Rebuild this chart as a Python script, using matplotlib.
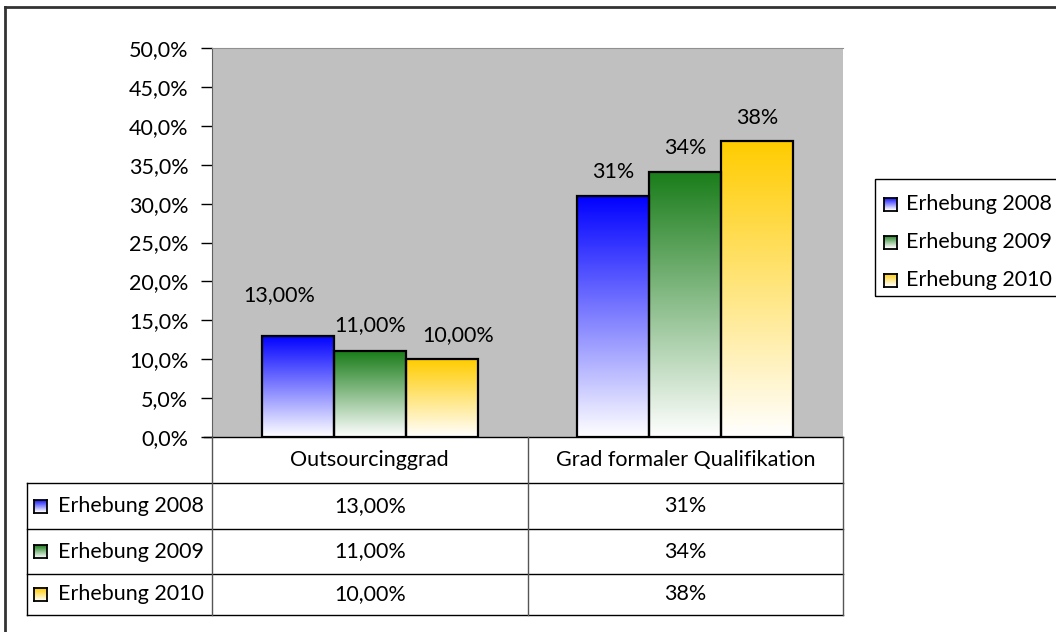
import numpy as np
import matplotlib.pyplot as plt
import matplotlib.transforms as mtransforms
from matplotlib.colors import LinearSegmentedColormap
from matplotlib.lines import Line2D
from matplotlib.patches import Rectangle

plt.rcParams['font.family'] = ['Lato', 'DejaVu Sans']
plt.rcParams['font.size'] = 15.5
plt.rcParams['text.color'] = 'black'

# Data
categories = ['Outsourcinggrad', 'Grad formaler Qualifikation']
series = ['Erhebung 2008', 'Erhebung 2009', 'Erhebung 2010']
erhebung_2008 = [0.13, 0.31]
erhebung_2009 = [0.11, 0.34]
erhebung_2010 = [0.10, 0.38]
decimals = [2, 0]  # number format per category
values = [erhebung_2008, erhebung_2009, erhebung_2010]
colors = ['#0000FF', '#1A7D1A', '#FFCC00']

W, H = 1056, 632
fig = plt.figure(figsize=(W / 100, H / 100), dpi=100)


def fx(px):
    return px / W


def fy(py):
    return 1 - py / H


def fmt(v, d):
    return f'{v * 100:.{d}f}%'.replace('.', ',')


def gradient_cmap(c):
    return LinearSegmentedColormap.from_list('g', ['#FFFFFF', c])


grad = np.linspace(0, 1, 256).reshape(-1, 1)

# Plot area
left, right, top, bottom = 212, 843, 48, 437
ax = fig.add_axes([fx(left), fy(bottom), fx(right - left), (bottom - top) / H])
ax.set_facecolor('#C0C0C0')

x = np.arange(len(categories))
bw = 0.228
offsets = [-bw, 0, bw]
label_shift = [[(-19, 41), (0, 24)], [(0, 26), (0, 24)], [(16, 24), (0, 23)]]

for s, vals in enumerate(values):
    bars = ax.bar(x + offsets[s], vals, bw, fill=False, edgecolor='black',
                  linewidth=1.6, zorder=3)
    for i, b in enumerate(bars):
        x0 = b.get_x()
        ax.imshow(grad, extent=(x0, x0 + bw, 0, vals[i]), origin='lower',
                  aspect='auto', cmap=gradient_cmap(colors[s]), zorder=2)
        dx, dy = label_shift[s][i]
        ax.annotate(fmt(vals[i], decimals[i]), (x[i] + offsets[s], vals[i]),
                    xytext=(dx, dy), textcoords='offset pixels',
                    ha='center', va='center')

ax.set_xlim(-0.5, 1.5)
ax.set_ylim(0, 0.5)
ticks = np.arange(0, 0.501, 0.05)
ax.set_yticks(ticks)
ax.set_yticklabels([f'{t * 100:.1f}%'.replace('.', ',') for t in ticks])
ax.set_xticks([])
ax.tick_params(axis='y', length=8, width=1, pad=9, colors='black', labelcolor='black')
ax.spines['top'].set_color('#909090')
ax.spines['right'].set_visible(False)
ax.spines['left'].set_color('#606060')
ax.spines['bottom'].set_visible(False)

# Data table under the plot
tab_left = 27
row_y = [437, 483, 529, 574, 615]
line_kw = dict(color='black', linewidth=1)
fig.add_artist(Line2D([fx(204), fx(right)], [fy(437), fy(437)], **line_kw))
for yy in row_y[1:]:
    fig.add_artist(Line2D([fx(tab_left), fx(right)], [fy(yy), fy(yy)], **line_kw))
fig.add_artist(Line2D([fx(tab_left), fx(tab_left)], [fy(483), fy(615)], **line_kw))
for xx in [left, (left + right) / 2, right]:
    fig.add_artist(Line2D([fx(xx), fx(xx)], [fy(437), fy(615)], color='#555555', linewidth=1))

tr = mtransforms.blended_transform_factory(ax.transData, fig.transFigure)
for i, cat in enumerate(categories):
    fig.text(x[i], fy(460), cat, transform=tr, ha='center', va='center')
    for s in range(len(series)):
        yc = (row_y[s + 1] + row_y[s + 2]) / 2
        fig.text(x[i], fy(yc), fmt(values[s][i], decimals[i]), transform=tr,
                 ha='center', va='center')


def key_square(px, py, c, size=13):
    k = fig.add_axes([fx(px), fy(py + size / 2), fx(size), size / H])
    k.imshow(grad, origin='lower', aspect='auto', cmap=gradient_cmap(c),
             extent=(0, 1, 0, 1))
    k.set_xticks([])
    k.set_yticks([])
    for sp in k.spines.values():
        sp.set_linewidth(1.3)
        sp.set_color('black')


for s, name in enumerate(series):
    yc = (row_y[s + 1] + row_y[s + 2]) / 2
    key_square(34, yc, colors[s])
    fig.text(fx(58), fy(yc), name, ha='left', va='center')

# Legend box on the right
fig.add_artist(Rectangle((fx(875), fy(296)), fx(200), (296 - 179) / H,
                         fill=False, edgecolor='black', linewidth=1))
for s, name in enumerate(series):
    yc = 204 + 38 * s
    key_square(884, yc, colors[s])
    fig.text(fx(906), fy(yc), name, ha='left', va='center')

# Outer chart frame
frame_kw = dict(color='#333333', linewidth=2)
fig.add_artist(Line2D([fx(5), fx(5)], [fy(7), 0], **frame_kw))
fig.add_artist(Line2D([fx(5), 1], [fy(7), fy(7)], **frame_kw))

fig.savefig('out.png', dpi=100)
